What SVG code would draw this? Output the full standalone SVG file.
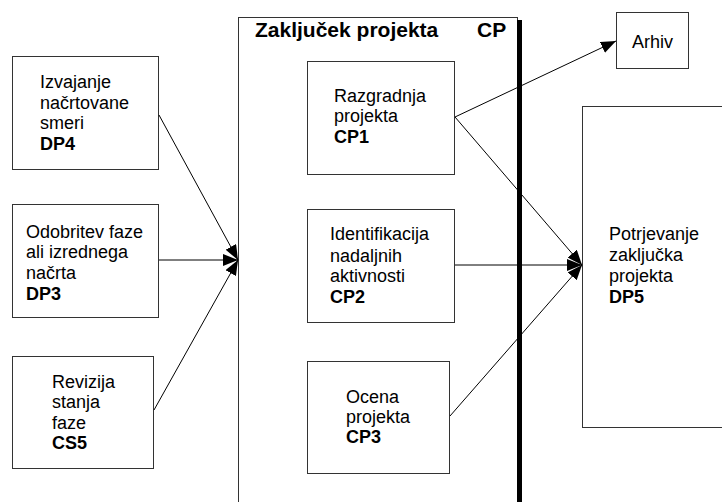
<svg xmlns="http://www.w3.org/2000/svg" width="722" height="502" viewBox="0 0 722 502">
<defs>
<marker id="ah" markerUnits="userSpaceOnUse" markerWidth="16" markerHeight="12" refX="15" refY="6" orient="auto">
<path d="M0,0 L15,6 L0,12 Z" fill="#000"/>
</marker>
<style>
.box{fill:#fff;stroke:#333;stroke-width:1}
.t{font-family:"Liberation Sans",Arial,sans-serif;font-size:18px;fill:#000}
.b{font-weight:bold}
.ttl{font-family:"Liberation Sans",Arial,sans-serif;font-size:21px;font-weight:bold;fill:#000}
.c{fill:none;stroke:#000;stroke-width:1}
</style>
</defs>
<rect width="722" height="502" fill="#fff"/>
<g id="CP">
<rect class="box" x="238.5" y="17.5" width="279" height="500"/>
<line x1="519.5" y1="20" x2="519.5" y2="502" stroke="#000" stroke-width="5"/>
<text class="ttl" x="255" y="37">Zaključek projekta</text>
<text class="ttl" x="477" y="37">CP</text>
</g>
<g id="DP4">
<rect class="box" x="12.5" y="56.5" width="146" height="113"/>
<text class="t" x="40" y="88">Izvajanje</text>
<text class="t" x="40" y="109">načrtovane</text>
<text class="t" x="40" y="129">smeri</text>
<text class="t b" x="40" y="150">DP4</text>
</g>
<g id="DP3">
<rect class="box" x="12.5" y="204.5" width="146" height="113"/>
<text class="t" x="26" y="238">Odobritev faze</text>
<text class="t" x="26" y="258">ali izrednega</text>
<text class="t" x="26" y="279">načrta</text>
<text class="t b" x="26" y="300">DP3</text>
</g>
<g id="CS5">
<rect class="box" x="12.5" y="356.5" width="141" height="112"/>
<text class="t" x="52" y="388">Revizija</text>
<text class="t" x="52" y="408">stanja</text>
<text class="t" x="52" y="429">faze</text>
<text class="t b" x="52" y="449">CS5</text>
</g>
<g id="CP1">
<rect class="box" x="307.5" y="61.5" width="147" height="113"/>
<text class="t" x="334" y="102">Razgradnja</text>
<text class="t" x="334" y="122">projekta</text>
<text class="t b" x="334" y="143">CP1</text>
</g>
<g id="CP2">
<rect class="box" x="307.5" y="209.5" width="147" height="113"/>
<text class="t" x="330" y="240">Identifikacija</text>
<text class="t" x="330" y="262">nadaljnih</text>
<text class="t" x="330" y="282">aktivnosti</text>
<text class="t b" x="330" y="303">CP2</text>
</g>
<g id="CP3">
<rect class="box" x="307.5" y="361.5" width="142" height="112"/>
<text class="t" x="346" y="403">Ocena</text>
<text class="t" x="346" y="423">projekta</text>
<text class="t b" x="346" y="443">CP3</text>
</g>
<g id="Arhiv">
<rect class="box" x="616.5" y="12.5" width="72" height="56"/>
<text class="t" x="632" y="48">Arhiv</text>
</g>
<g id="DP5">
<rect class="box" x="582.5" y="106.5" width="200" height="321"/>
<text class="t" x="609" y="240">Potrjevanje</text>
<text class="t" x="609" y="261">zaključka</text>
<text class="t" x="609" y="282">projekta</text>
<text class="t b" x="609" y="303">DP5</text>
</g>
<g id="connectors">
<line class="c" x1="159" y1="115" x2="238" y2="260" marker-end="url(#ah)"/>
<line class="c" x1="159" y1="260" x2="238" y2="260" marker-end="url(#ah)"/>
<line class="c" x1="154" y1="410" x2="238" y2="260" marker-end="url(#ah)"/>
<line class="c" x1="455" y1="117" x2="616" y2="41" marker-end="url(#ah)"/>
<line class="c" x1="455" y1="117" x2="582" y2="265" marker-end="url(#ah)"/>
<line class="c" x1="455" y1="265" x2="582" y2="265" marker-end="url(#ah)"/>
<line class="c" x1="450" y1="416" x2="582" y2="265" marker-end="url(#ah)"/>
</g>
</svg>
